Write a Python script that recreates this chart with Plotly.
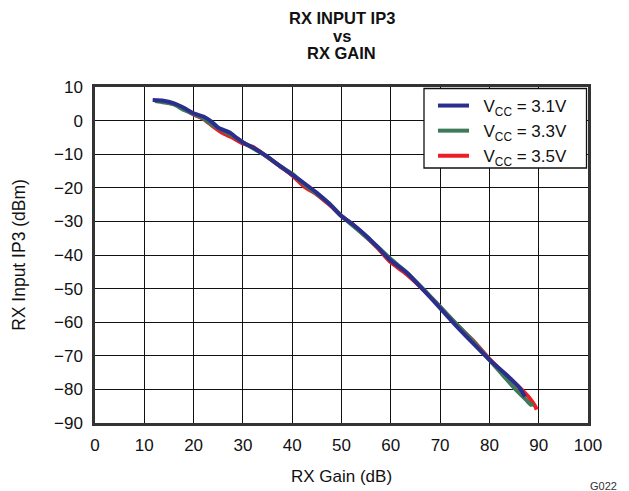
import plotly.graph_objects as go

# Data
blue_x = [11.7, 13.9, 15.9, 17.9, 20, 22, 23.7, 25, 27.4, 28.7, 30.1, 32.1, 34.8, 37.5, 39.9, 42.3, 45, 47.7, 50, 52.4, 55.1, 57.5, 59.8, 63.2, 66.6, 70, 73.4, 76.7, 80.1, 83.5, 86.2, 87.2]
blue_y = [6.1, 5.9, 5.2, 3.9, 2.2, 1.2, -0.4, -2.1, -3.6, -5.1, -6.6, -8.1, -10.6, -13.5, -16, -18.5, -21.5, -25, -28.5, -31, -34.4, -37.9, -41.4, -45.2, -50.4, -55.8, -61.3, -66.3, -71.3, -75.7, -79.7, -82.2]

green_x = [12.2, 14, 16, 18, 20, 22, 24, 26, 28, 30, 32, 35, 37.5, 40, 42.3, 45, 47.5, 50, 52.5, 55, 57.5, 60, 63, 66.5, 70, 73.5, 77, 80, 83, 85.5, 87.5, 88.5, 88.9]
green_y = [5.8, 5.4, 4.8, 3.2, 2.0, 0.6, -1.5, -3.0, -4.6, -6.4, -8.2, -10.8, -13.5, -15.8, -18.8, -21.8, -24.6, -28.4, -31.5, -34.6, -37.8, -41.2, -44.9, -50.0, -55.4, -60.8, -66.2, -71.2, -76.2, -80.3, -83.2, -84.6, -84.2]

red_x = [12.5, 14, 16, 18, 20, 22, 24, 26, 28, 30, 32, 34, 37.5, 40, 42.3, 45, 47.5, 50, 52.5, 55, 57.5, 60, 63, 66.5, 70, 73.5, 77, 80, 83, 86, 88.2, 89.2, 89.6]
red_y = [5.9, 5.6, 4.9, 3.6, 1.8, 0.5, -1.8, -3.8, -5.2, -6.8, -7.8, -9.8, -13.6, -16.3, -19.5, -22.0, -25.0, -28.3, -31.2, -34.6, -38.2, -42.2, -45.5, -50.2, -55.5, -60.9, -65.9, -70.9, -75.3, -79.3, -82.7, -84.8, -86.0]

series_names = ["V<sub>CC</sub> = 3.1V", "V<sub>CC</sub> = 3.3V", "V<sub>CC</sub> = 3.5V"]
series_colors = ["#2A2E8C", "#3D7A5A", "#EE1C25"]

x_ticks = [0, 10, 20, 30, 40, 50, 60, 70, 80, 90, 100]
y_ticks = [10, 0, -10, -20, -30, -40, -50, -60, -70, -80, -90]

FONT = "Liberation Sans, Arial, sans-serif"
PL, PT, PW, PH = 95, 87, 493, 336  # plot area in pixels

fig = go.Figure()
for xs, ys, name, col, rank in [
    (red_x, red_y, series_names[2], series_colors[2], 3),
    (green_x, green_y, series_names[1], series_colors[1], 2),
    (blue_x, blue_y, series_names[0], series_colors[0], 1),
]:
    fig.add_trace(go.Scatter(x=xs, y=ys, mode="lines", name="\u00a0\u00a0" + name,
                             line=dict(color=col, width=4, shape="spline", smoothing=0.6),
                             legendrank=rank))

fig.update_layout(
    width=629, height=491,
    margin=dict(l=PL, r=629 - PL - PW, t=PT, b=491 - PT - PH, autoexpand=False),
    paper_bgcolor="white", plot_bgcolor="white",
    font=dict(family=FONT, size=17, color="#111"),
    showlegend=True,
    legend=dict(x=(433 - PL) / PW, y=1 - 1 / PH, xanchor="left", yanchor="top",
                bgcolor="rgba(0,0,0,0)", borderwidth=0,
                font=dict(family=FONT, size=17, color="#111"),
                itemwidth=31, tracegroupgap=0),
    shapes=[dict(type="rect", xref="paper", yref="paper", layer="above",
                 x0=(424 - PL) / PW, x1=1 - 1.5 / PW, y0=(PT + PH - 168) / PH, y1=1 - 1.5 / PH,
                 fillcolor="white", line=dict(color="#111", width=1.3))],
)

fig.update_xaxes(range=[0, 100], tickvals=x_ticks, showgrid=True, gridcolor="#111", gridwidth=1.3,
                 zeroline=False, showline=True, linecolor="#333", linewidth=2.5, mirror=True,
                 automargin=False,
                 ticks="", ticklen=0, ticklabelstandoff=5, tickfont=dict(size=17, color="#111"),
                 title=dict(text="RX Gain (dB)", font=dict(size=17, color="#111"), standoff=16))
fig.update_yaxes(range=[-90, 10], tickvals=y_ticks, showgrid=True, gridcolor="#111", gridwidth=1.3,
                 zeroline=False, showline=True, linecolor="#333", linewidth=2.5, mirror=True,
                 automargin=False,
                 ticks="", ticklen=0, ticklabelstandoff=6, tickfont=dict(size=17, color="#111"),
                 title=dict(text="RX Input IP3 (dBm)", font=dict(size=17.5, color="#111"), standoff=24))

for txt, yy in [("RX INPUT IP3", 18), ("vs", 36), ("RX GAIN", 53)]:
    fig.add_annotation(text="<b>" + txt + "</b>", xref="paper", yref="paper",
                       x=0.5, y=1 + (PT - yy) / PH, xanchor="center", yanchor="middle",
                       showarrow=False, font=dict(family=FONT, size=16.5, color="#111"))

fig.add_annotation(text="G022", xref="paper", yref="paper", x=1.0, y=-(486 - PT - PH) / PH,
                   xanchor="left", yanchor="middle", showarrow=False,
                   font=dict(family=FONT, size=11, color="#333"))

fig.write_html("out.html")
